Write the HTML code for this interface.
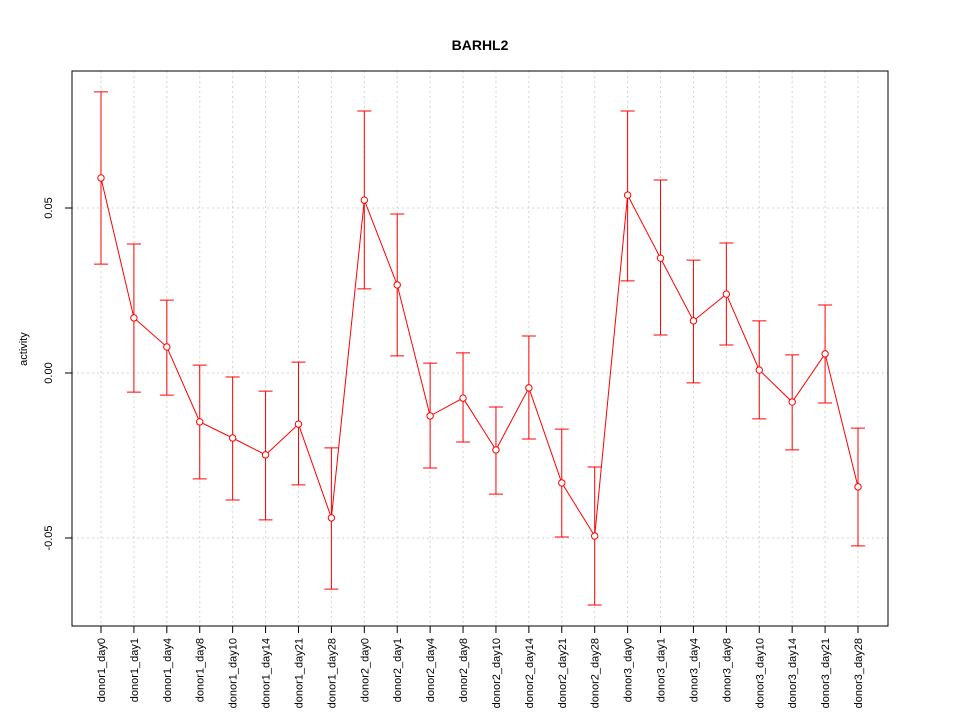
<!DOCTYPE html>
<html><head><meta charset="utf-8"><style>body{margin:0;background:#fff}svg{display:block}</style></head>
<body>
<svg id="chart" width="960" height="720" xmlns="http://www.w3.org/2000/svg" font-family="Liberation Sans, sans-serif">
<rect width="960" height="720" fill="#fff"/>
<text x="480" y="50" text-anchor="middle" font-weight="bold" font-size="14">BARHL2</text>
<text transform="translate(27,349) rotate(-90)" text-anchor="middle" font-size="11">activity</text>
<g id="grid"></g><g id="axes"></g><g id="marks"></g>
<rect x="72" y="71" width="816" height="555" fill="none" stroke="#000"/>
</svg>
<script>
const categories=["donor1_day0","donor1_day1","donor1_day4","donor1_day8","donor1_day10","donor1_day14","donor1_day21","donor1_day28","donor2_day0","donor2_day1","donor2_day4","donor2_day8","donor2_day10","donor2_day14","donor2_day21","donor2_day28","donor3_day0","donor3_day1","donor3_day4","donor3_day8","donor3_day10","donor3_day14","donor3_day21","donor3_day28"];
const values=[0.0591,0.0167,0.0079,-0.0148,-0.0197,-0.0248,-0.0155,-0.0439,0.0524,0.0267,-0.0130,-0.0076,-0.0233,-0.0045,-0.0333,-0.0494,0.0539,0.0348,0.0158,0.0239,0.0009,-0.0088,0.0058,-0.0345];
const upper=[0.0852,0.0391,0.0221,0.0024,-0.0012,-0.0055,0.0033,-0.0227,0.0794,0.0482,0.0030,0.0061,-0.0103,0.0112,-0.0170,-0.0285,0.0794,0.0585,0.0342,0.0394,0.0158,0.0055,0.0206,-0.0167];
const lower=[0.0330,-0.0058,-0.0067,-0.0321,-0.0385,-0.0445,-0.0339,-0.0655,0.0255,0.0052,-0.0288,-0.0209,-0.0367,-0.0200,-0.0497,-0.0703,0.0279,0.0115,-0.0030,0.0085,-0.0139,-0.0233,-0.0091,-0.0524];
const yTicks=[-0.05,0,0.05];
const yTickLabels=["-0.05","0.00","0.05"];
const NS="http://www.w3.org/2000/svg";
const x=i=>101+i*(858-101)/(categories.length-1);
const y=v=>373-v*3300;
function mk(tag,attrs,parent){const e=document.createElementNS(NS,tag);for(const k in attrs)e.setAttribute(k,attrs[k]);document.getElementById(parent).appendChild(e);return e;}
categories.forEach((c,i)=>{
 const g=mk('line',{x1:x(i),x2:x(i),y1:71,y2:626,stroke:'#d3d3d3','stroke-dasharray':'2,3'},'grid');
 
 const t=mk('line',{x1:x(i),x2:x(i),y1:626,y2:633,stroke:'#000'},'axes');
 
 const l=mk('text',{transform:`translate(${x(i)+4},638) rotate(-90)`,'text-anchor':'end','font-size':'11'},'axes');
 l.textContent=c;
 
});
yTicks.forEach((v,i)=>{
 const g=mk('line',{x1:72,x2:888,y1:y(v),y2:y(v),stroke:'#d3d3d3','stroke-dasharray':'2,3'},'grid');
 
 const t=mk('line',{x1:65,x2:72,y1:y(v),y2:y(v),stroke:'#000'},'axes');
 
 const l=mk('text',{transform:`translate(52,${y(v)}) rotate(-90)`,'text-anchor':'middle','font-size':'11'},'axes');
 l.textContent=yTickLabels[i];
 
});
const line=mk('polyline',{points:values.map((v,i)=>x(i)+','+y(v)).join(' '),fill:'none',stroke:'#ff0000'},'marks');

values.forEach((v,i)=>{
 const eb=mk('path',{d:`M${x(i)},${y(upper[i])}V${y(lower[i])}M${x(i)-7},${y(upper[i])}H${x(i)+7}M${x(i)-7},${y(lower[i])}H${x(i)+7}`,stroke:'#ff0000',fill:'none'},'marks');
 
 const p=mk('circle',{cx:x(i),cy:y(v),r:3.2,fill:'#fff',stroke:'#ff0000'},'marks');
 
});
</script>
</body></html>
